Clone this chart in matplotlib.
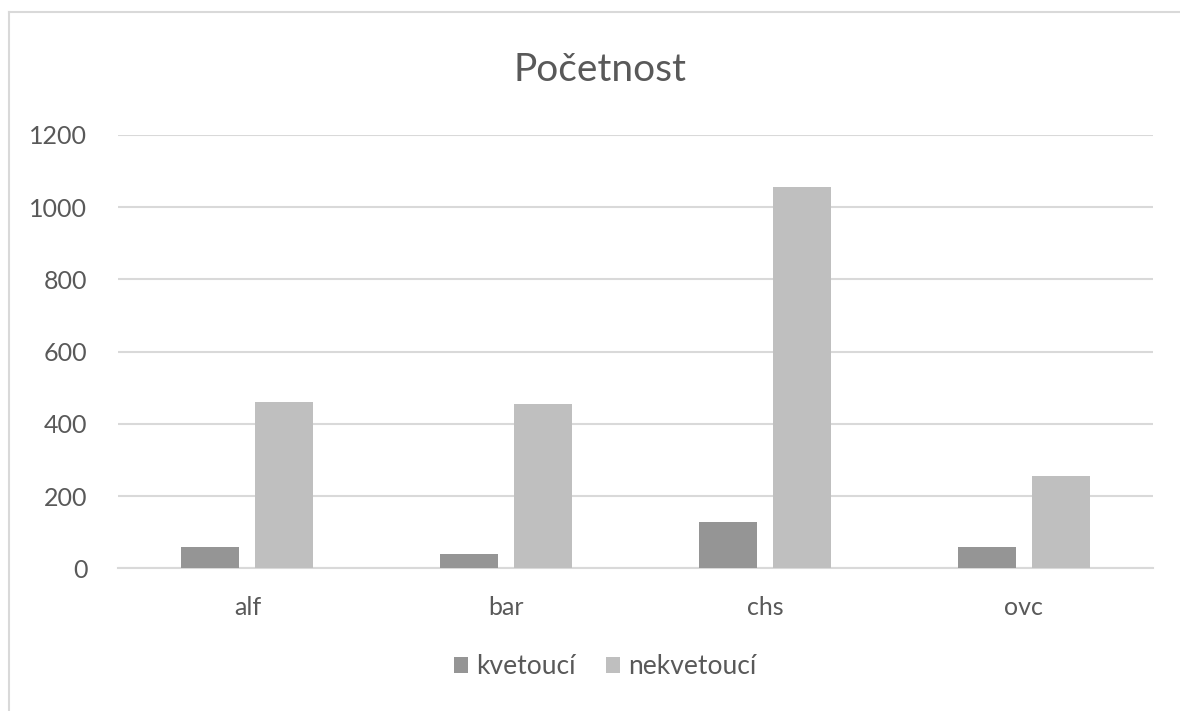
import matplotlib
matplotlib.use("Agg")
import matplotlib.pyplot as plt
import numpy as np
from matplotlib.lines import Line2D

categories = ["alf", "bar", "chs", "ovc"]
kvetouci = [60, 39, 129, 59]
nekvetouci = [460, 455, 1055, 256]
series_names = ["kvetoucí", "nekvetoucí"]
y_ticks = [0, 200, 400, 600, 800, 1000, 1200]

plt.rcParams["font.family"] = ["Lato", "DejaVu Sans"]
text_color = "#595959"
grid_color = "#d9d9d9"
dark = "#959595"
light = "#bfbfbf"

fig = plt.figure(figsize=(11.8, 7.11), dpi=100)
W, H = 1180, 711

# chart frame
fig.add_artist(Line2D([9 / W, 9 / W], [0, 1 - 12 / H], transform=fig.transFigure,
                      color="#d9d9d9", lw=1.5))
fig.add_artist(Line2D([9 / W, 1], [1 - 12 / H, 1 - 12 / H], transform=fig.transFigure,
                      color="#d9d9d9", lw=1.5))

left, right = 118 / W, 1153 / W
bottom, top = 1 - 568.3 / H, 1 - 135 / H
ax = fig.add_axes([left, bottom, right - left, top - bottom])

x = np.arange(len(categories))
bw = 0.224
gap = 0.062
off = (bw + gap) / 2
ax.bar(x - off, kvetouci, width=bw, color=dark, label=series_names[0], zorder=3)
ax.bar(x + off, nekvetouci, width=bw, color=light, label=series_names[1], zorder=3)

ax.set_xlim(-0.5, len(categories) - 0.5)
ax.set_ylim(0, 1200)
ax.set_yticks(y_ticks)
ax.set_xticks(x)
ax.set_xticklabels(categories)
ax.yaxis.grid(True, color=grid_color, lw=1.5, zorder=0)
ax.set_axisbelow(True)
for s in ["top", "right", "left"]:
    ax.spines[s].set_visible(False)
ax.spines["bottom"].set_color(grid_color)
ax.spines["bottom"].set_linewidth(1.5)
ax.tick_params(axis="both", length=0, labelsize=18, labelcolor=text_color)
ax.tick_params(axis="y", pad=22)
ax.tick_params(axis="x", pad=20)

fig.text(600 / W, 1 - 70 / H, "Početnost", ha="center", va="center",
         fontsize=28, color=text_color)

leg = fig.legend(loc="center", bbox_to_anchor=(605 / W, 1 - 667 / H), ncol=2,
                 frameon=False, fontsize=19, labelcolor=text_color,
                 handlelength=0.55, handleheight=0.55, handletextpad=0.3,
                 columnspacing=1.15)

fig.savefig("out.png", dpi=100, facecolor="white")
